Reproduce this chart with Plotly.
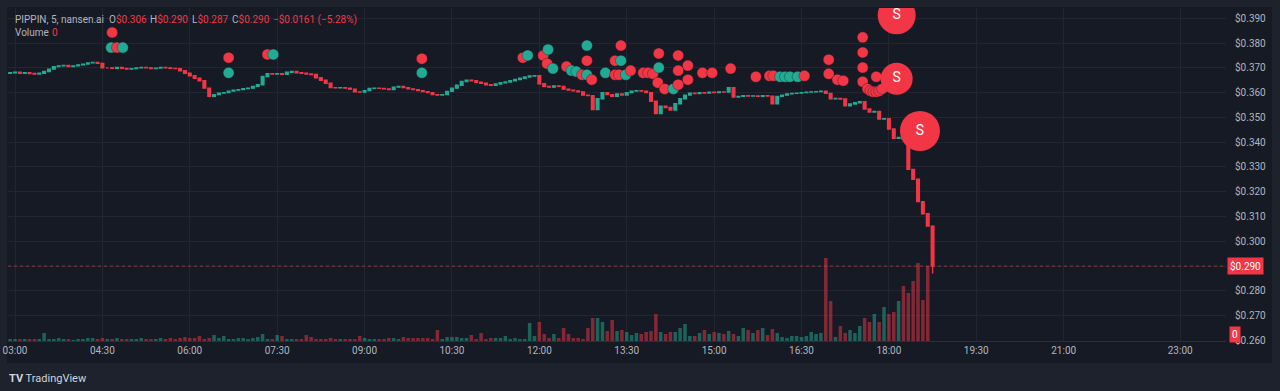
import plotly.graph_objects as go
import pandas as pd

# ---------------- data ----------------
DAY = "2024-11-26"
candle_start = "02:55"          # first 5-minute candle
first_open = 0.3678
last_low = 0.2870

candle_close = [
    # 02:55 ...
    0.3680, 0.3682, 0.3678, 0.3680, 0.3677, 0.3675, 0.3678,
    0.3685, 0.3695, 0.3705,
    0.3708, 0.3710, 0.3705, 0.3708, 0.3712, 0.3715, 0.3720, 0.3722, 0.3718,
    0.3700,
    0.3700, 0.3698, 0.3702, 0.3698, 0.3695, 0.3697, 0.3700, 0.3702, 0.3700, 0.3697,
    0.3699, 0.3702, 0.3700, 0.3698, 0.3697,
    0.3688, 0.3678, 0.3668, 0.3658, 0.3648, 0.3618, 0.3585,
    0.3592, 0.3598, 0.3600, 0.3606, 0.3610, 0.3612, 0.3616, 0.3618, 0.3625, 0.3632, 0.3665,
    0.3676, 0.3675, 0.3676, 0.3674,
    0.3682, 0.3685, 0.3680, 0.3678, 0.3675, 0.3673,
    0.3660, 0.3650, 0.3638,
    0.3620, 0.3619, 0.3620, 0.3618, 0.3614,
    0.3603, 0.3602, 0.3608, 0.3617, 0.3618, 0.3617, 0.3615, 0.3612,
    0.3622, 0.3625, 0.3620, 0.3615, 0.3612, 0.3608, 0.3604, 0.3600, 0.3592, 0.3590,
    0.3592, 0.3605, 0.3618, 0.3630, 0.3645, 0.3650, 0.3648, 0.3642, 0.3638, 0.3632,
    0.3630, 0.3635, 0.3640, 0.3643, 0.3648, 0.3653, 0.3658, 0.3663, 0.3667, 0.3668,
    0.3636, 0.3625, 0.3622, 0.3627, 0.3625, 0.3614, 0.3610, 0.3607, 0.3603, 0.3590,
    0.3588, 0.3532, 0.3575,
    0.3600, 0.3592, 0.3585, 0.3595, 0.3590, 0.3600, 0.3606, 0.3608, 0.3606, 0.3600,
    0.3565, 0.3515, 0.3545, 0.3540, 0.3530, 0.3555, 0.3575, 0.3590, 0.3598, 0.3596,
    0.3600, 0.3598, 0.3602, 0.3600, 0.3603, 0.3602,
    0.3620, 0.3582, 0.3585, 0.3588, 0.3586, 0.3587, 0.3585, 0.3588, 0.3586, 0.3555,
    0.3585, 0.3590, 0.3595, 0.3597, 0.3598, 0.3600, 0.3602, 0.3603, 0.3604, 0.3606,
    0.3597, 0.3575, 0.3576, 0.3574, 0.3547, 0.3554, 0.3559, 0.3563, 0.3534, 0.3522,
    0.3524, 0.3493, 0.3495, 0.3453, 0.3416, 0.3419, 0.3413, 0.3290, 0.3250, 0.3160,
    0.3111, 0.3061, 0.2900,
]

volume = [
    2, 2, 2, 2, 2, 2, 2, 8, 2, 2,
    3, 2, 2, 1, 2, 2, 3, 3, 2, 3,
    2, 2, 3, 2, 2, 2, 2, 3, 2, 2,
    2, 3, 2, 3, 2, 3, 4, 3, 3, 5,
    2, 3, 6, 3, 5, 2, 2, 3, 3, 2,
    3, 4, 7, 2, 2, 6, 5, 2, 2, 2,
    2, 6, 4, 2, 2, 2, 3, 2, 2, 2,
    2, 2, 5, 3, 2, 2, 2, 2, 3, 3,
    2, 4, 3, 3, 3, 3, 3, 2, 11, 2,
    4, 4, 4, 3, 3, 6, 2, 8, 2, 3,
    3,
    3, 5, 2, 3, 2, 2, 18, 5, 19, 7,
    3, 7, 3, 13, 7, 3, 3, 2, 13, 23,
    23, 19, 10, 21, 10, 11, 9, 6, 8, 7,
    9, 10, 27, 9, 7, 9, 9, 13, 17, 5,
    5, 8, 11, 7, 9, 8, 7, 10, 7, 5,
    13, 11, 8, 11, 13, 6, 12, 8, 4, 3,
    5, 5, 4, 5, 9, 7, 8,
    83, 40, 4, 15, 8, 11, 8, 15, 23, 19,
    27, 19, 34, 27, 29, 40, 55, 48, 60, 78,
    41, 75, 0,
]

time_ticks = ["03:00", "04:30", "06:00", "07:30", "09:00", "10:30", "12:00",
              "13:30", "15:00", "16:30", "18:00", "19:30", "21:00", "23:00"]
price_ticks = [0.26, 0.27, 0.28, 0.29, 0.30, 0.31, 0.32, 0.33, 0.34, 0.35,
               0.36, 0.37, 0.38, 0.39]

# trade markers (B = buy / teal, S = sell / red)
marker_time = ["04:40", "04:39", "04:45", "04:51", "06:40", "06:40", "07:20", "07:26",
               "09:59", "09:59", "11:43", "11:48", "12:04", "12:08", "12:09", "12:14",
               "12:28", "12:33", "12:38", "12:44", "12:49", "12:49", "12:49", "12:54",
               "13:08", "13:18", "13:18", "13:22", "13:24", "13:24", "13:29", "13:34",
               "13:47", "13:52", "13:57", "14:02", "14:03", "14:03", "14:09", "14:18",
               "14:23", "14:23", "14:23", "14:33", "14:33", "14:48", "14:58", "15:17",
               "15:43", "15:57", "16:01", "16:08", "16:13", "16:18", "16:26", "16:33",
               "16:58", "16:58", "17:07", "17:13", "17:33", "17:33", "17:33", "17:33",
               "17:38", "17:41", "17:44", "17:47", "17:47", "17:50", "17:53"]
marker_price = [0.3843, 0.3782, 0.3782, 0.3782, 0.3741, 0.3680, 0.3754, 0.3754,
                0.3737, 0.3680, 0.3741, 0.3750, 0.3750, 0.3717, 0.3774, 0.3697,
                0.3705, 0.3689, 0.3685, 0.3672, 0.3672, 0.3790, 0.3729, 0.3652,
                0.3680, 0.3729, 0.3672, 0.3672, 0.3790, 0.3729, 0.3672, 0.3689,
                0.3680, 0.3680, 0.3676, 0.3640, 0.3758, 0.3701, 0.3615, 0.3615,
                0.3750, 0.3689, 0.3632, 0.3709, 0.3652, 0.3680, 0.3680, 0.3697,
                0.3664, 0.3668, 0.3668, 0.3664, 0.3664, 0.3664, 0.3664, 0.3668,
                0.3733, 0.3676, 0.3652, 0.3648, 0.3823, 0.3762, 0.3701, 0.3644,
                0.3615, 0.3607, 0.3603, 0.3664, 0.3603, 0.3607, 0.3615]
marker_side = ["S", "B", "S", "B", "S", "B", "S", "B",
               "S", "B", "S", "B", "S", "S", "B", "B",
               "S", "B", "B", "S", "B", "B", "S", "S",
               "B", "S", "S", "S", "S", "B", "B", "S",
               "S", "S", "S", "S", "S", "B", "S", "B",
               "S", "S", "S", "S", "S", "S", "S", "S",
               "S", "S", "S", "B", "B", "B", "B", "S",
               "S", "S", "S", "S", "S", "S", "S", "S",
               "S", "S", "S", "S", "S", "S", "S"]

big_time = ["18:08", "18:08", "18:32"]
big_price = [0.3912, 0.3656, 0.3445]
big_label = ["S", "S", "S"]

last_price = 0.290
legend_name = "PIPPIN, 5, nansen.ai"
legend_keys = ["O", "H", "L", "C", ""]
legend_vals = ["$0.306", "$0.290", "$0.287", "$0.290", "−$0.0161 (−5.28%)"]
legend_vol_label = "Volume"
legend_vol = "0"

# ---------------- styles ----------------
UP = "#22ab94"
DOWN = "#f23645"
UP_VOL = "rgba(34,171,148,0.5)"
DOWN_VOL = "rgba(242,54,69,0.5)"
OUTER = "#1e222d"
PANEL = "#161a25"
GRID = "#222632"
TEXT = "#b2b5be"
FONT = "Roboto, 'Noto Sans', sans-serif"
FS = 10
BIG_SIZES = [38, 32, 40]
LEGEND_X = [108, 149, 191, 231, 272]       # pixel columns of the O/H/L/C/change groups

W, H = 1280, 391
L, R, T, B = 8, 54, 8, 50
PW, PH = W - L - R, H - T - B
PRICE_Y0, PRICE_K = 18.3, 2477.0     # pixel row of $0.390, pixels per 1.0 price
TIME_X0, TIME_K = 15.0, 0.971         # pixel column of 03:00, pixels per minute


def px_x(px):
    return (px - L) / PW


def px_y(py):
    return (H - B - py) / PH


def ts(hm):
    return pd.Timestamp(f"{DAY} {hm}")


# ---------------- build ----------------
times = pd.date_range(f"{DAY} {candle_start}", periods=len(candle_close), freq="5min")
opens = [first_open] + candle_close[:-1]
highs = [max(o, c) for o, c in zip(opens, candle_close)]
lows = [min(o, c) for o, c in zip(opens, candle_close)]
lows[-1] = last_low
vol_colors = [UP_VOL if c >= o else DOWN_VOL for o, c in zip(opens, candle_close)]

fig = go.Figure()

fig.add_trace(go.Bar(
    x=times, y=volume, marker=dict(color=vol_colors, line=dict(width=0)),
    yaxis="y", hoverinfo="skip", showlegend=False))

fig.add_trace(go.Candlestick(
    x=times, open=opens, high=highs, low=lows, close=candle_close,
    increasing=dict(line=dict(color=UP, width=1.4), fillcolor=UP),
    decreasing=dict(line=dict(color=DOWN, width=1.4), fillcolor=DOWN),
    whiskerwidth=0, yaxis="y2", hoverinfo="skip", showlegend=False))

fig.add_trace(go.Scatter(
    x=[ts(t) for t in marker_time], y=marker_price, mode="markers", yaxis="y2",
    marker=dict(size=11, opacity=1,
                color=[UP if s == "B" else DOWN for s in marker_side],
                line=dict(width=0.6, color="rgba(22,26,37,0.6)")),
    hoverinfo="skip", showlegend=False))

fig.add_trace(go.Scatter(
    x=[ts(t) for t in big_time], y=big_price, mode="markers+text", yaxis="y2",
    text=big_label, textposition="middle center", opacity=1,
    textfont=dict(color="white", size=14, family="Roboto"),
    marker=dict(size=BIG_SIZES, color=DOWN, opacity=1, line=dict(width=0)),
    hoverinfo="skip", showlegend=False))

t03 = pd.Timestamp(f"{DAY} 03:00")
x0 = t03 + pd.Timedelta(minutes=(L - TIME_X0) / TIME_K)
x1 = t03 + pd.Timedelta(minutes=(W - R - TIME_X0) / TIME_K)
y_top = 0.390 + (PRICE_Y0 - T) / PRICE_K
y_bot = 0.390 - (H - B - PRICE_Y0) / PRICE_K

# the last-price badge sits over the $0.290 tick, so that tick keeps no own label
price_ticktext = ["" if abs(p - last_price) < 1e-9 else f"${p:.3f}" for p in price_ticks]

red = lambda s: f"<span style='color:{DOWN}'>{s}</span>"


def text_ann(px, py, text, size=FS, color=TEXT, family=FONT):
    return dict(xref="paper", yref="paper", x=px_x(px), y=px_y(py), xanchor="left",
                yanchor="middle", showarrow=False, text=text, borderpad=0,
                font=dict(size=size, color=color, family=family))


annotations = [text_ann(14, 19, legend_name)]
for px, k, v in zip(LEGEND_X, legend_keys, legend_vals):
    annotations.append(text_ann(px, 19, k + red(v)))
annotations.append(text_ann(14, 33, legend_vol_label))
annotations.append(text_ann(51, 33, red(legend_vol)))
annotations += [
    dict(xref="paper", yref="y2", x=px_x(1227), y=last_price, xanchor="left",
         yanchor="middle", showarrow=False, text=f"${last_price:.3f}",
         bgcolor=DOWN, borderpad=2, font=dict(size=FS, color="white", family=FONT)),
    dict(xref="paper", yref="paper", x=px_x(1229), y=px_y(334), xanchor="left",
         yanchor="middle", showarrow=False, text=legend_vol,
         bgcolor=DOWN, borderpad=2, font=dict(size=FS, color="white", family=FONT)),
    text_ann(8, 378, "<b>TV</b> TradingView", size=11, color="#d1d4dc"),
]

fig.update_layout(
    width=W, height=H,
    margin=dict(l=L, r=R, t=T, b=B, pad=0, autoexpand=False),
    paper_bgcolor=OUTER, plot_bgcolor="rgba(0,0,0,0)",
    font=dict(family=FONT, size=FS, color=TEXT),
    bargap=0.28, boxgap=0.22,
    xaxis=dict(
        type="date", range=[x0, x1], rangeslider=dict(visible=False),
        tickvals=[ts(t) for t in time_ticks], ticktext=time_ticks,
        showgrid=True, gridcolor=GRID, gridwidth=1, zeroline=False,
        showline=True, linecolor="#2a2e39", linewidth=1, automargin=False,
        ticks="", tickfont=dict(size=FS, color=TEXT), fixedrange=True),
    yaxis=dict(range=[0, PH], visible=False, fixedrange=True, showgrid=False,
               automargin=False),
    yaxis2=dict(
        overlaying="y", side="right", range=[y_bot, y_top],
        tickvals=price_ticks, ticktext=price_ticktext, automargin=False,
        showgrid=True, gridcolor=GRID, gridwidth=1, zeroline=False,
        showline=False, ticks="", ticklabelstandoff=8,
        tickfont=dict(size=FS, color=TEXT), fixedrange=True),
    shapes=[
        dict(type="rect", xref="paper", yref="paper", layer="below",
             x0=px_x(7), x1=px_x(1272), y0=px_y(363), y1=px_y(7),
             fillcolor=PANEL, line=dict(width=0)),
        dict(type="line", xref="paper", yref="y2", x0=0, x1=1,
             y0=last_price, y1=last_price,
             line=dict(color="rgba(242,54,69,0.6)", width=1, dash="dot")),
    ],
    annotations=annotations,
)

fig.write_html(
    "out.html",
    config={"displayModeBar": False},
    post_script="document.body.style.margin='0';document.body.style.background='%s';" % OUTER)
